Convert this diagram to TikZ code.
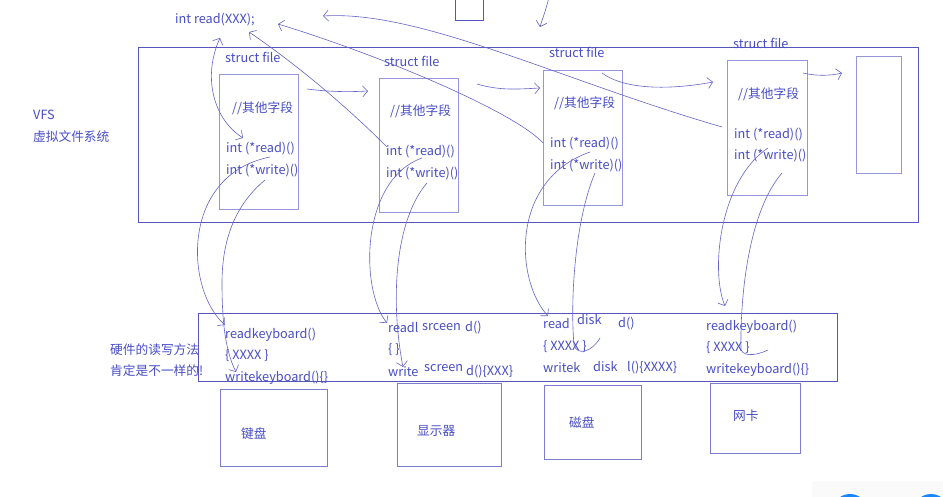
\documentclass[tikz,border=0pt]{standalone}
\usepackage{fontspec}
\setmainfont{Noto Sans CJK SC}
\usetikzlibrary{arrows.meta}
\definecolor{tb}{RGB}{72,78,198}
\definecolor{lb}{RGB}{100,100,200}
\definecolor{bx}{RGB}{150,150,220}
\definecolor{bd}{RGB}{85,85,188}
\definecolor{dv}{RGB}{125,125,205}
\definecolor{ui}{RGB}{25,135,250}
\begin{document}
\begin{tikzpicture}[x=1pt,y=-1pt,
  txt/.style={anchor=west,inner sep=0pt,text=tb,font=\fontsize{12.7}{15}\selectfont},
  rbox/.style={anchor=north west,inner sep=0pt,outer sep=0pt},
  sbox/.style={rbox,draw=bx,line width=0.9pt},
  dbox/.style={rbox,draw=bd,line width=0.9pt},
  devbox/.style={rbox,draw=dv,line width=0.9pt},
  pen/.style={draw=lb,line width=0.6pt},
  tip/.style={pen,-{Straight Barb[length=5pt,width=11pt]}},
  ]
\useasboundingbox[fill=white] (0,0) rectangle (943,497);

% top partial box
\draw[bd,line width=0.8pt] (455,-3) -- (455,20) -- (483,20) -- (483,-3);

% big boxes
\node[dbox,minimum width=780pt,minimum height=175pt] (vfsbox) at (138,47) {};
\node[dbox,minimum width=639pt,minimum height=68pt] (hwbox) at (198,313) {};

% struct file boxes
\node[sbox,minimum width=79pt,minimum height=135pt] (f1) at (219,74) {};
\node[sbox,minimum width=79pt,minimum height=134pt] (f2) at (379,78) {};
\node[sbox,minimum width=79pt,minimum height=135pt] (f3) at (543,70) {};
\node[sbox,minimum width=80pt,minimum height=135pt] (f4) at (727,60) {};
\node[sbox,minimum width=45pt,minimum height=117pt] (f5) at (856,56) {};

% device boxes
\node[devbox,minimum width=107pt,minimum height=77pt] (kb) at (220,389) {};
\node[devbox,minimum width=104pt,minimum height=83pt] (scr) at (397,383) {};
\node[devbox,minimum width=97pt,minimum height=74pt] (dsk) at (544,385) {};
\node[devbox,minimum width=90pt,minimum height=70pt] (nic) at (710,383) {};

% texts
\node[txt] (intread) at (175,20) {int read(XXX);};
\node[txt] (vfs) at (33,115) {VFS};
\node[txt] (vfscn) at (33,137) {虚拟文件系统};
\node[txt] (hw1) at (110,350) {硬件的读写方法};
\node[txt] (hw2) at (110,371) {肯定是不一样的!};

\node[txt] (s1) at (225,57) {struct file};
\node[txt] (s2) at (384,61) {struct file};
\node[txt] (s3) at (549,52) {struct file};
\node[txt] (s4) at (733,43) {struct file};

\node[txt] (o1) at (232,108) {//其他字段};
\node[txt] (r1) at (226,149) {int (*read)()};
\node[txt] (w1) at (226,171) {int (*write)()};
\node[txt] (o2) at (390,111) {//其他字段};
\node[txt] (r2) at (386,152) {int (*read)()};
\node[txt] (w2) at (386,174) {int (*write)()};
\node[txt] (o3) at (554,103) {//其他字段};
\node[txt] (r3) at (550,144) {int (*read)()};
\node[txt] (w3) at (550,166) {int (*write)()};
\node[txt] (o4) at (738,94) {//其他字段};
\node[txt] (r4) at (734,135) {int (*read)()};
\node[txt] (w4) at (734,156) {int (*write)()};

\node[txt] (k1) at (225,335) {readkeyboard()};
\node[txt] (k2) at (225,356) {\{ XXXX \}};
\node[txt] (k3) at (225,378) {writekeyboard()\{\}};

\node[txt] (c1) at (388,328) {readl};
\node[txt] (c1b) at (422,327) {srceen};
\node[txt] (c1c) at (465,328) {d()};
\node[txt] (c2) at (388,350) {\{ \}};
\node[txt] (c3) at (388,372) {write};
\node[txt] (c3b) at (424,368) {screen};
\node[txt] (c3c) at (466,372) {d()\{XXX\}};

\node[txt] (d1) at (543,324) {read};
\node[txt] (d1b) at (577,320) {disk};
\node[txt] (d1c) at (618,324) {d()};
\node[txt] (d2) at (543,347) {\{ XXXX \}};
\node[txt] (d3) at (543,368) {writek};
\node[txt] (d3b) at (593,367) {disk};
\node[txt] (d3c) at (627,368) {l()\{XXXX\}};

\node[txt] (n1) at (706,327) {readkeyboard()};
\node[txt] (n2) at (706,348) {\{ XXXX \}};
\node[txt] (n3) at (706,370) {writekeyboard()\{\}};

\node[txt] (kbt) at (241,434) {键盘};
\node[txt] (scrt) at (417,431) {显示器};
\node[txt] (dskt) at (569,423) {磁盘};
\node[txt] (nict) at (733,416) {网卡};

% named end points of the hand-drawn connectors
\coordinate (pA) at (220,38);
\coordinate (pA2) at (243,138);
\coordinate (pB) at (249,32);
\coordinate (pB2) at (387,147);
\coordinate (pC) at (278,24);
\coordinate (pC2) at (543,143);
\coordinate (pD) at (323,16);
\coordinate (pD2) at (722,127);
\coordinate (pE) at (549,-3);
\coordinate (pE2) at (540,27);

\coordinate (h1a) at (307,89);  \coordinate (h1b) at (368,91);
\coordinate (h2a) at (477,84);  \coordinate (h2b) at (540,88);
\coordinate (h3a) at (602,73);  \coordinate (h3b) at (713,82);
\coordinate (h4a) at (803,73);  \coordinate (h4b) at (842,73);

\coordinate (v1a) at (270,157); \coordinate (v1b) at (225,325);
\coordinate (v2a) at (265,180); \coordinate (v2b) at (236,372);
\coordinate (v3a) at (422,158); \coordinate (v3b) at (387,323);
\coordinate (v4a) at (427,183); \coordinate (v4b) at (403,367);
\coordinate (v5a) at (590,152); \coordinate (v5b) at (548,316);
\coordinate (v6a) at (595,173); \coordinate (v6b) at (600,338);
\coordinate (v7a) at (768,148); \coordinate (v7b) at (725,306);
\coordinate (v8a) at (782,173); \coordinate (v8b) at (768,350);

% connectors up to int read(XXX)
\draw[pen,{Straight Barb[length=5pt,width=11pt]}-{Straight Barb[length=5pt,width=11pt]}]
  (pA) .. controls (203,75) and (212,118) .. (pA2);
\draw[tip] (pB2) .. controls (340,100) and (290,60) .. (pB);
\draw[tip] (pC2) .. controls (515,112) and (380,55) .. (pC);
\draw[tip] (pD2) .. controls (560,80) and (420,10) .. (pD);
\draw[tip] (pE) .. controls (546,10) and (542,20) .. (pE2);

% horizontal links between struct files
\draw[tip] (h1a) .. controls (330,92) and (350,92) .. (h1b);
\draw[tip] (h2a) .. controls (500,91) and (520,89) .. (h2b);
\draw[tip] (h3a) .. controls (625,90) and (670,90) .. (h3b);
\draw[tip] (h4a) .. controls (815,76) and (830,76) .. (h4b);

% down to hardware methods
\draw[tip] (v1a) .. controls (180,175) and (185,290) .. (v1b);
\draw[tip] (v2a) .. controls (235,205) and (222,240) .. (222,283)
                 .. controls (222,320) and (225,350) .. (v2b);
\draw[tip] (v3a) .. controls (360,180) and (360,290) .. (v3b);
\draw[tip] (v4a) .. controls (395,220) and (390,300) .. (v4b);
\draw[tip] (v5a) .. controls (510,180) and (515,280) .. (v5b);
\draw[pen] (v6a) .. controls (575,220) and (570,300) .. (574,345)
                 .. controls (577,356) and (592,352) .. (v6b);
\draw[tip] (v7a) .. controls (720,180) and (710,270) .. (v7b);
\draw[pen] (v8a) .. controls (750,210) and (740,290) .. (741,350)
                 .. controls (745,358) and (760,354) .. (v8b);

% screen corner widgets
\fill[gray!4] (812,481) rectangle (943,497);
\fill[ui] (850,512) circle (18);
\fill[ui] (931,512) circle (18);
\end{tikzpicture}
\end{document}
